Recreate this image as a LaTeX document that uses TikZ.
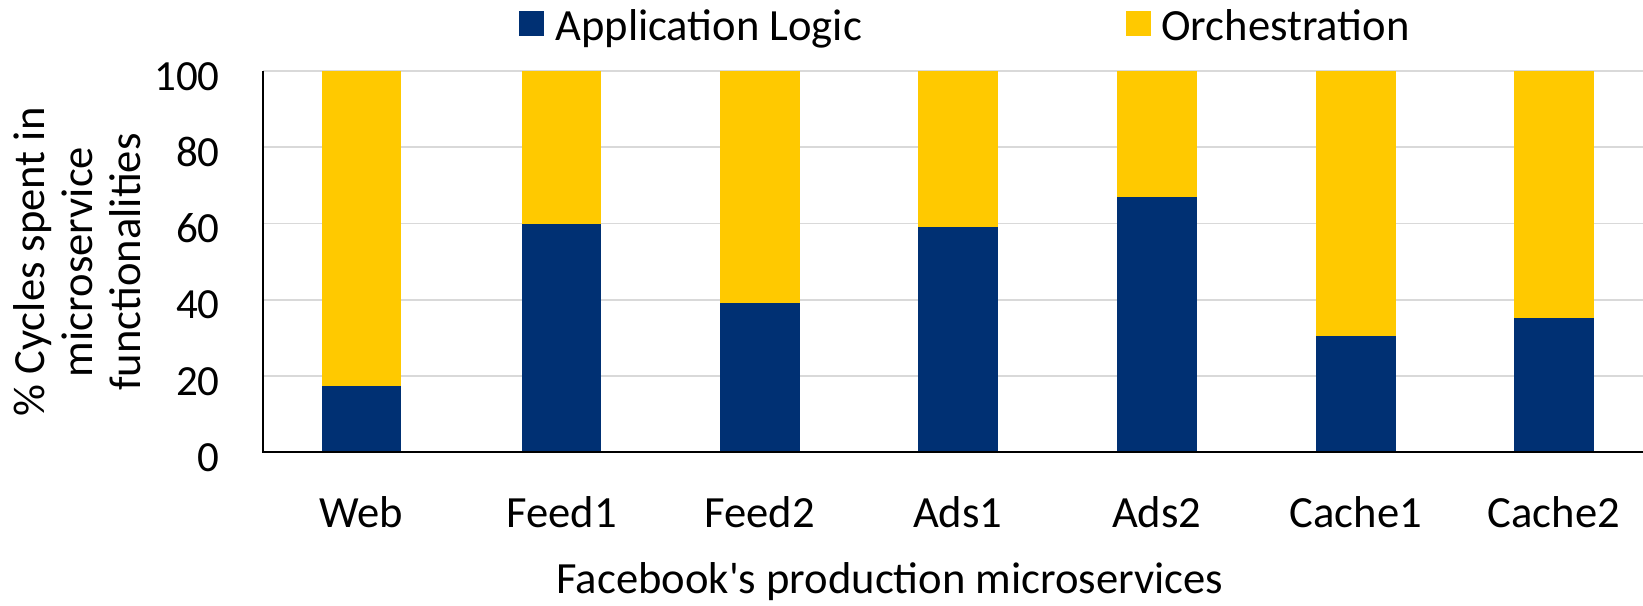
\documentclass[tikz,border=0pt]{standalone}
\usepackage{fontspec}
\setmainfont{Carlito}[Ligatures=TeXOff]
\definecolor{applogic}{RGB}{0,48,115}
\definecolor{orch}{RGB}{255,201,0}
\definecolor{gridgray}{RGB}{217,217,217}
\tikzset{
  gridline/.style={draw=gridgray, line width=0.9pt},
  axisline/.style={draw=black, line width=1.1pt},
  ticklabel/.style={anchor=base east, inner sep=0pt, font=\fontsize{21.5}{24}\selectfont},
  catlabel/.style={anchor=base, inner sep=0pt, font=\fontsize{22.3}{24}\selectfont},
  legendtext/.style={anchor=base west, inner sep=0pt, font=\fontsize{22.3}{24}\selectfont},
  axistitle/.style={inner sep=0pt, font=\fontsize{22.3}{24}\selectfont, align=center},
}
% vertical position of a percentage value
\newcommand{\yof}[1]{452.3-3.813*#1}
\begin{document}
\begin{tikzpicture}[x=0.5pt,y=-0.5pt]
\useasboundingbox (0,0) rectangle (1643,605);

% horizontal grid
\foreach \v in {20,40,60,80,100}
  \draw[gridline] (263,{\yof{\v}}) -- (1643,{\yof{\v}});

% tick labels
\foreach \v in {0,20,40,60,80,100}
  \node[ticklabel] (tick\v) at (220,{\yof{\v}+19}) {\v};

% stacked bars
\foreach \name/\cx/\val in {Web/361.5/17.5, Feed1/561.6/59.8, Feed2/759.7/39.1,
                            Ads1/957.7/59.2, Ads2/1156.8/66.9, Cache1/1355.9/30.6,
                            Cache2/1553.9/35.1} {
  \fill[orch] ({\cx-39.8},{\yof{100}}) rectangle ({\cx+39.8},{\yof{\val}});
  \fill[applogic] ({\cx-39.8},{\yof{\val}}) rectangle ({\cx+39.8},{\yof{0}});
  \node[catlabel] (cat\name) at (\cx,527) {\name};
}

% axes
\draw[axisline] (263,{\yof{100}}) -- (263,{\yof{0}}) -- (1643,{\yof{0}});

% axis titles
\node[axistitle, rotate=90] (ytitle) at (77,262)
  {\% Cycles spent in\\microservice\\functionalities};
\node[catlabel] (xtitle) at (890,593) {Facebook's production microservices};

% legend
\fill[applogic] (519,11) rectangle (544,36);
\node[legendtext] (legapp) at (555,40) {Application Logic};
\fill[orch] (1126,11) rectangle (1151,36);
\node[legendtext] (legorch) at (1161,40) {Orchestration};
\end{tikzpicture}
\end{document}
